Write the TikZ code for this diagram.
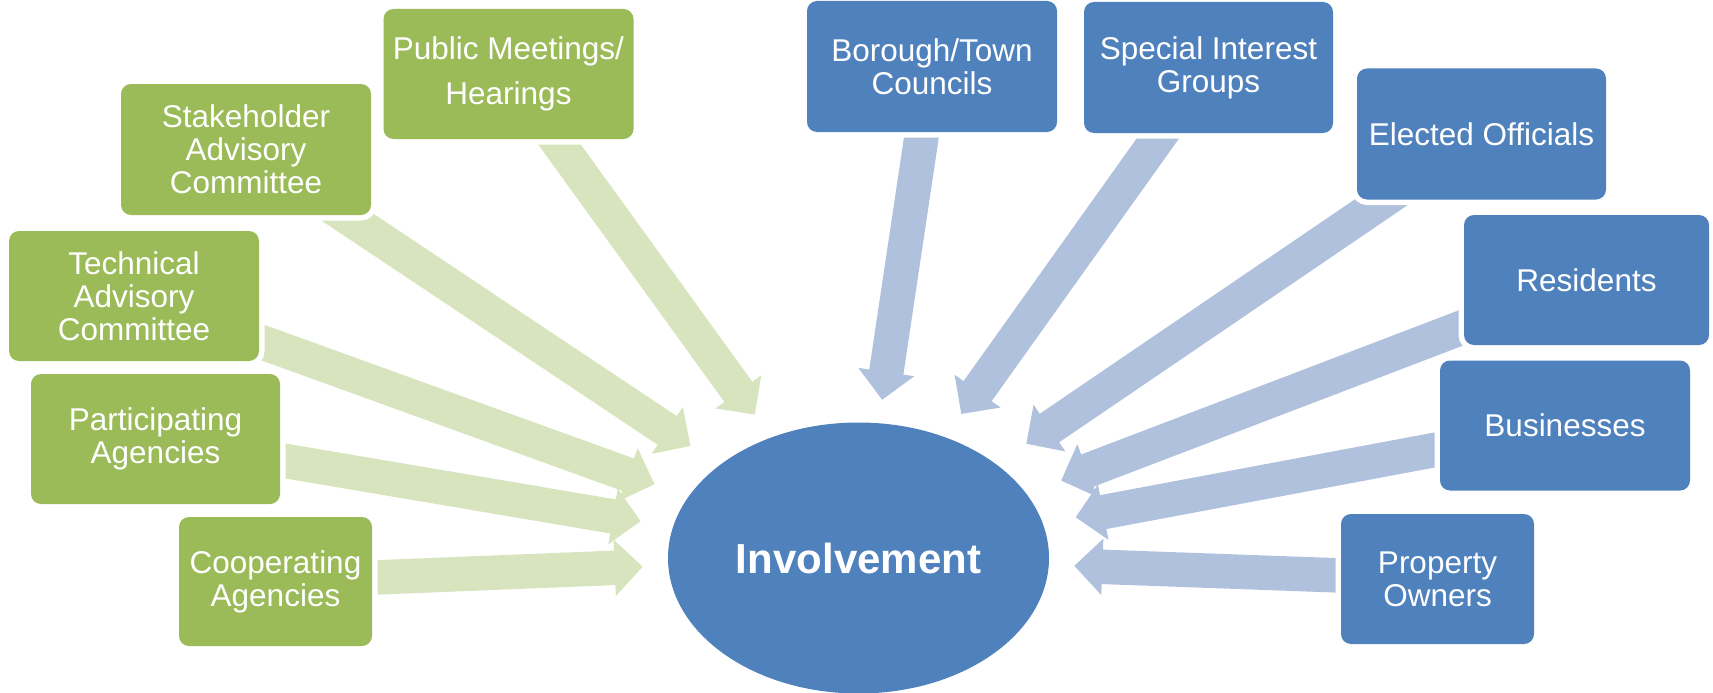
\documentclass[tikz,border=0pt]{standalone}
\usepackage{fontspec}
\setmainfont{Liberation Sans}
\usetikzlibrary{calc,shapes.geometric}
\definecolor{gbox}{HTML}{9BBB59}
\definecolor{bbox}{HTML}{4F81BD}
\definecolor{garr}{HTML}{D7E4BD}
\definecolor{barr}{HTML}{B0C1DD}
\pgfdeclarelayer{bg}
\pgfsetlayers{bg,main}
\tikzset{
  box/.style={rounded corners=10pt, minimum width=250pt, minimum height=130pt,
    inner sep=0pt, text=white, align=center,
    font=\fontsize{31.5}{33}\selectfont,
    preaction={draw=white, line width=11pt}},
  gbx/.style={box, fill=gbox},
  bbx/.style={box, fill=bbox},
  garrow/.style={fill=garr},
  barrow/.style={fill=barr},
}
% #1 style, #2 source node, #3 target node, #4 distance of tip from target centre
\newcommand\blockarr[4]{%
  \path (#2.center) coordinate (ba-s)
        ($(#3.center)!#4!(#2.center)$) coordinate (ba-t)
        ($(ba-t)!28pt!(ba-s)$) coordinate (ba-b);
  \fill[#1] ($(ba-s)!17.25pt!90:(ba-t)$) -- ($(ba-b)!17.25pt!90:(ba-t)$)
     -- ($(ba-b)!28.25pt!90:(ba-t)$) -- (ba-t)
     -- ($(ba-b)!28.25pt!-90:(ba-t)$) -- ($(ba-b)!17.25pt!-90:(ba-t)$)
     -- ($(ba-s)!17.25pt!-90:(ba-t)$) -- cycle;
}
\begin{document}
\begin{tikzpicture}[x=1pt,y=-1pt]
\useasboundingbox (0,0) rectangle (1713,693);
% centre
\node[ellipse, fill=bbox, minimum width=381pt, minimum height=271pt, inner sep=0pt,
      text=white, font=\bfseries\fontsize{42}{46}\selectfont] (inv) at (858.5,558) {Involvement};
% green boxes
\node[gbx, font=\fontsize{31.5}{45.5}\selectfont] (pm) at (508.5,74) {Public Meetings/\\Hearings};
\node[gbx, minimum height=131pt] (sac) at (246,149.5) {Stakeholder\\Advisory\\Committee};
\node[gbx] (tac) at (134,296) {Technical\\Advisory\\Committee};
\node[gbx, minimum width=249pt] (pa) at (155.5,439) {Participating\\Agencies};
\node[gbx, minimum width=193pt, minimum height=129pt] (ca) at (275.5,581.5) {Cooperating\\Agencies};
% blue boxes
\node[bbx, minimum height=131pt] (btc) at (932,66.5) {Borough/Town\\Councils};
\node[bbx, minimum width=249pt, minimum height=131pt] (sig) at (1208.5,67.5) {Special Interest\\Groups};
\node[bbx, minimum width=249pt, minimum height=131pt] (eo) at (1481.5,134) {Elected Officials};
\node[bbx, minimum width=245pt] (res) at (1586.5,280) {Residents};
\node[bbx] (bus) at (1565,425.5) {Businesses};
\node[bbx, minimum width=193pt] (po) at (1437.5,579) {Property\\Owners};
% arrows
\begin{pgfonlayer}{bg}
\blockarr{garrow}{pm}{inv}{177pt}
\blockarr{garrow}{sac}{inv}{202pt}
\blockarr{garrow}{tac}{inv}{217pt}
\blockarr{garrow}{pa}{inv}{221pt}
\blockarr{garrow}{ca}{inv}{216pt}
\blockarr{barrow}{btc}{inv}{160pt}
\blockarr{barrow}{sig}{inv}{177pt}
\blockarr{barrow}{eo}{inv}{203pt}
\blockarr{barrow}{res}{inv}{217pt}
\blockarr{barrow}{bus}{inv}{221pt}
\blockarr{barrow}{po}{inv}{216pt}
\end{pgfonlayer}
\end{tikzpicture}
\end{document}
